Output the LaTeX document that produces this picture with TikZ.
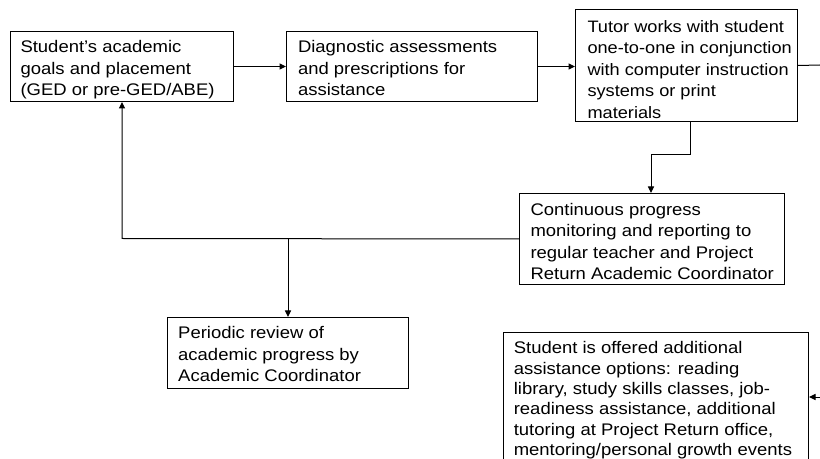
\documentclass[tikz,border=0pt]{standalone}
\usepackage{fontspec}
\setmainfont{Liberation Sans}[FakeStretch=1.1]
\usetikzlibrary{arrows.meta,calc}
\begin{document}
\begin{tikzpicture}[x=1bp,y=-1bp,line width=1bp,
  box/.style={draw, anchor=north west, inner sep=0pt},
  txt/.style={anchor=base west, inner sep=0pt, font=\fontsize{16.86}{21.58}\selectfont},
  arr/.style={-{Triangle[length=6.5bp,width=6bp]}}]
\useasboundingbox (0,0) rectangle (820,459);
\fill[white] (0,0) rectangle (820,459);

% boxes
\node[box, minimum width=223bp, minimum height=70bp] (b1) at (10,31) {};
\node[box, minimum width=251bp, minimum height=70bp] (b2) at (286,31) {};
\node[box, minimum width=222bp, minimum height=112bp] (b3) at (575,9) {};
\node[box, minimum width=265bp, minimum height=91bp] (b4) at (519,193) {};
\node[box, minimum width=241bp, minimum height=71bp] (b5) at (167,317) {};
\node[box, minimum width=305bp, minimum height=150bp] (b6) at (503,332) {};

% texts
\node[txt] (t1) at ($(b1.north west)+(10,22)$) {\parbox[t]{215bp}{\raggedright Student’s academic\\goals and placement\\(GED or pre-GED/ABE)}};
\node[txt] (t2) at ($(b2.north west)+(11.5,22)$) {\parbox[t]{240bp}{\raggedright Diagnostic assessments\\and prescriptions for\\assistance}};
\node[txt] (t3) at ($(b3.north west)+(12,23.5)$) {\parbox[t]{215bp}{\raggedright\fontsize{16.6}{21.58}\selectfont Tutor works with student\\one-to-one in conjunction\\with computer instruction\\systems or print\\materials}};
\node[txt] (t4) at ($(b4.north west)+(11,22.5)$) {\parbox[t]{255bp}{\raggedright Continuous progress\\monitoring and reporting to\\regular teacher and Project\\Return Academic Coordinator}};
\node[txt] (t5) at ($(b5.north west)+(10.7,22)$) {\parbox[t]{230bp}{\raggedright Periodic review of\\academic progress by\\Academic Coordinator}};
\node[txt] (t6) at ($(b6.north west)+(10.3,22)$) {\parbox[t]{295bp}{\raggedright\fontsize{16.86}{20.35}\selectfont Student is offered additional\\assistance options: reading\\library, study skills classes, job-\\readiness assistance, additional\\tutoring at Project Return office,\\mentoring/personal growth events}};

% helper coordinates
\coordinate (r1) at (820,65);
\coordinate (r2) at (820,397);
\coordinate (k1) at (690,155);
\coordinate (k2) at (651,155);
\coordinate (k3) at (122,238.5);
\coordinate (k4) at (288,238.5);

% connectors
\draw[arr] (b1.east) -- (b1.east -| b2.west);
\draw[arr] (b2.east) -- (b2.east -| b3.west);
\draw (b3.east) -- (r1);
\draw[arr] (b3.south -| k1) -- (k1) -- (k2) -- (k2 |- b4.north);
\draw[arr] (b4.west) -- (k3) -- (k3 |- b1.south);
\draw[arr] (k4) -- (k4 |- b5.north);
\draw[arr] (r2) -- (r2 -| b6.east);
\end{tikzpicture}
\end{document}
